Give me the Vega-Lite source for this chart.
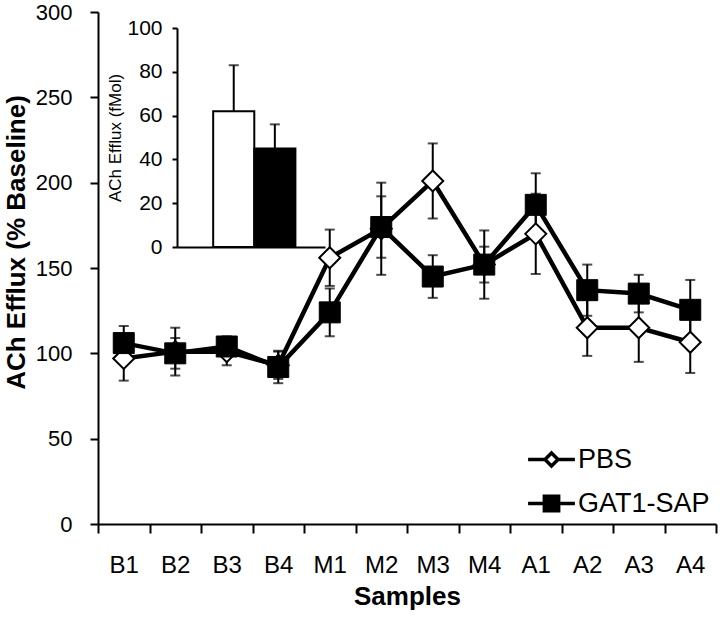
{
  "$schema": "https://vega.github.io/schema/vega-lite/v6.json",
  "width": 618,
  "height": 512,
  "autosize": {"type": "none"},
  "padding": {"left": 98, "top": 12, "right": 4, "bottom": 96},
  "background": "white",
  "config": {
    "font": "Liberation Sans",
    "view": {"stroke": null},
    "axis": {"grid": false, "domainColor": "black", "tickColor": "black", "labelColor": "black", "titleColor": "black", "domainWidth": 2, "tickWidth": 2, "labelFont": "Liberation Sans", "titleFont": "Liberation Sans"}
  },
  "datasets": {
    "main": [
      {"sample": "B1", "group": "PBS", "mean": 97, "sem": 13},
      {"sample": "B2", "group": "PBS", "mean": 101, "sem": 14},
      {"sample": "B3", "group": "PBS", "mean": 101, "sem": 8},
      {"sample": "B4", "group": "PBS", "mean": 93, "sem": 8},
      {"sample": "M1", "group": "PBS", "mean": 156, "sem": 16.5},
      {"sample": "M2", "group": "PBS", "mean": 173, "sem": 27},
      {"sample": "M3", "group": "PBS", "mean": 201, "sem": 22},
      {"sample": "M4", "group": "PBS", "mean": 152, "sem": 20},
      {"sample": "A1", "group": "PBS", "mean": 170, "sem": 23.5},
      {"sample": "A2", "group": "PBS", "mean": 115, "sem": 16.5},
      {"sample": "A3", "group": "PBS", "mean": 115, "sem": 20},
      {"sample": "A4", "group": "PBS", "mean": 106.5, "sem": 18},
      {"sample": "B1", "group": "GAT1-SAP", "mean": 106, "sem": 10},
      {"sample": "B2", "group": "GAT1-SAP", "mean": 100, "sem": 9},
      {"sample": "B3", "group": "GAT1-SAP", "mean": 104, "sem": 6},
      {"sample": "B4", "group": "GAT1-SAP", "mean": 92, "sem": 9.5},
      {"sample": "M1", "group": "GAT1-SAP", "mean": 124, "sem": 14},
      {"sample": "M2", "group": "GAT1-SAP", "mean": 174, "sem": 18},
      {"sample": "M3", "group": "GAT1-SAP", "mean": 145, "sem": 12.5},
      {"sample": "M4", "group": "GAT1-SAP", "mean": 152, "sem": 10.5},
      {"sample": "A1", "group": "GAT1-SAP", "mean": 187, "sem": 18.5},
      {"sample": "A2", "group": "GAT1-SAP", "mean": 137, "sem": 15},
      {"sample": "A3", "group": "GAT1-SAP", "mean": 135, "sem": 11},
      {"sample": "A4", "group": "GAT1-SAP", "mean": 125.5, "sem": 17.5}
    ],
    "inset": [
      {"group": "PBS", "mean": 62, "upper": 83},
      {"group": "GAT1-SAP", "mean": 45, "upper": 56}
    ]
  },
  "layer": [
    {
      "data": {"name": "main"},
      "encoding": {
        "x": {
          "field": "sample", "type": "nominal",
          "sort": ["B1","B2","B3","B4","M1","M2","M3","M4","A1","A2","A3","A4"],
          "scale": {"type": "band", "paddingInner": 0, "paddingOuter": 0},
          "axis": {"orient": "bottom", "title": "Samples", "titleFontSize": 26, "titleFontWeight": "bold", "labelFontSize": 24, "labelAngle": 0, "tickBand": "extent", "tickSize": 9, "labelPadding": 20, "titlePadding": 6}
        }
      },
      "layer": [
        {
          "mark": {"type": "errorbar", "ticks": {"size": 10, "thickness": 2, "color": "black"}, "rule": {"strokeWidth": 2, "color": "black"}},
          "encoding": {
            "y": {"field": "mean", "type": "quantitative", "scale": {"domain": [0, 300]},
              "axis": {"orient": "left", "title": "ACh Efflux (% Baseline)", "titleFontSize": 26, "titleFontWeight": "bold", "titlePadding": 6, "titleY": 230, "labelFontSize": 22, "labelPadding": 18, "tickSize": 8, "values": [0, 50, 100, 150, 200, 250, 300]}},
            "yError": {"field": "sem"}
          }
        },
        {
          "mark": {"type": "line", "color": "black", "strokeWidth": 4.5},
          "encoding": {"y": {"field": "mean", "type": "quantitative"}, "detail": {"field": "group"}}
        },
        {
          "transform": [{"filter": "datum.group == 'PBS'"}],
          "mark": {"type": "point", "shape": "diamond", "filled": true, "fill": "white", "stroke": "black", "strokeWidth": 2, "size": 441, "opacity": 1},
          "encoding": {"y": {"field": "mean", "type": "quantitative"}}
        },
        {
          "transform": [{"filter": "datum.group == 'GAT1-SAP'"}],
          "mark": {"type": "point", "shape": "square", "filled": true, "fill": "black", "stroke": "black", "strokeWidth": 1, "size": 441, "opacity": 1},
          "encoding": {"y": {"field": "mean", "type": "quantitative"}}
        },
        {
          "mark": {"type": "point", "filled": true, "stroke": "black", "opacity": 0},
          "encoding": {
            "y": {"field": "mean", "type": "quantitative"},
            "fill": {"field": "group", "type": "nominal",
              "scale": {"domain": ["PBS", "GAT1-SAP"], "range": ["white", "black"]},
              "legend": {"title": null, "orient": "bottom-right", "offset": 6, "padding": 0, "symbolSize": 169, "symbolStrokeWidth": 3.5, "symbolOpacity": 1, "symbolStrokeColor": "black", "labelFontSize": 27, "labelColor": "black", "labelFont": "Liberation Sans", "labelOffset": 13, "rowPadding": 16,
                "encode": {"symbols": {"update": {"stroke": {"value": "black"}, "strokeWidth": {"value": 3.5}, "opacity": {"value": 1}, "strokeOpacity": {"value": 1}}}}}},
            "shape": {"field": "group", "type": "nominal",
              "scale": {"domain": ["PBS", "GAT1-SAP"], "range": ["M-3.6,0H-1M1,0H3.6M-1,0L0,-1L1,0L0,1Z", "M-3.6,0H-1.1M1.1,0H3.6M-1.1,-1.1H1.1V1.1H-1.1Z"]},
              "legend": {"title": null, "orient": "bottom-right", "offset": 6, "padding": 0, "symbolSize": 169, "symbolStrokeWidth": 3.5, "symbolOpacity": 1, "symbolStrokeColor": "black", "labelFontSize": 27, "labelColor": "black", "labelFont": "Liberation Sans", "labelOffset": 13, "rowPadding": 16,
                "encode": {"symbols": {"update": {"stroke": {"value": "black"}, "strokeWidth": {"value": 3.5}, "opacity": {"value": 1}, "strokeOpacity": {"value": 1}}}}}}
          }
        }
      ]
    },
    {
      "data": {"name": "inset"},
      "encoding": {
        "x": {
          "field": "group", "type": "nominal", "sort": ["PBS", "GAT1-SAP"],
          "scale": {"type": "band", "range": [79, 227], "paddingInner": 0, "paddingOuter": 0.8, "align": 0.55},
          "axis": {"orient": "bottom", "offset": -277, "labels": false, "ticks": false, "title": null, "domainWidth": 2}
        }
      },
      "layer": [
        {
          "mark": {"type": "bar", "stroke": "black", "strokeWidth": 2},
          "encoding": {
            "y": {"field": "mean", "type": "quantitative", "scale": {"domain": [0, 100], "range": [235, 16]},
              "axis": {"orient": "left", "offset": -79, "title": "ACh Efflux (fMol)", "titleFontSize": 17, "titleFontWeight": "normal", "titlePadding": 2, "labelFontSize": 21, "labelPadding": 10, "tickSize": 5, "values": [0, 20, 40, 60, 80, 100]}},
            "fill": {"condition": {"test": "datum.group == 'PBS'", "value": "white"}, "value": "black"}
          }
        },
        {
          "mark": {"type": "rule", "strokeWidth": 2, "color": "black"},
          "encoding": {"y": {"field": "mean", "type": "quantitative"}, "y2": {"field": "upper"}}
        },
        {
          "mark": {"type": "tick", "size": 10, "thickness": 2, "color": "black"},
          "encoding": {"y": {"field": "upper", "type": "quantitative"}}
        }
      ]
    }
  ],
  "resolve": {"scale": {"x": "independent", "y": "independent"}, "axis": {"x": "independent", "y": "independent"}}
}
